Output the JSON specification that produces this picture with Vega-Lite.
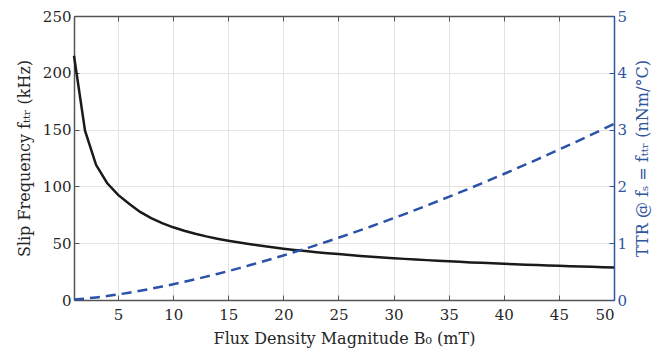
{
  "$schema": "https://vega.github.io/schema/vega-lite/v6.json",
  "autosize": "none",
  "width": 540,
  "height": 284,
  "padding": {"left": 74, "top": 16, "right": 56, "bottom": 58},
  "background": "white",
  "config": {
    "font": "DejaVu Serif",
    "view": {"stroke": null},
    "axis": {"labelFont": "DejaVu Serif", "titleFont": "DejaVu Serif", "labelFontSize": 15, "titleFontSize": 16, "titleFontWeight": "normal", "gridColor": "#e3e3e3", "gridWidth": 1}
  },
  "data": {"values": [
    {"B": 1, "f": 215, "ttr": 0.009},
    {"B": 2, "f": 149, "ttr": 0.025},
    {"B": 3, "f": 119, "ttr": 0.046},
    {"B": 4, "f": 103, "ttr": 0.070},
    {"B": 5, "f": 92.5, "ttr": 0.098},
    {"B": 6, "f": 84.7, "ttr": 0.129},
    {"B": 7, "f": 77.5, "ttr": 0.162},
    {"B": 8, "f": 72, "ttr": 0.198},
    {"B": 9, "f": 67.7, "ttr": 0.237},
    {"B": 10, "f": 64, "ttr": 0.277},
    {"B": 11, "f": 61, "ttr": 0.320},
    {"B": 12, "f": 58.3, "ttr": 0.364},
    {"B": 13, "f": 56, "ttr": 0.411},
    {"B": 14, "f": 54, "ttr": 0.459},
    {"B": 15, "f": 52.2, "ttr": 0.509},
    {"B": 16, "f": 50.6, "ttr": 0.561},
    {"B": 17, "f": 49.1, "ttr": 0.615},
    {"B": 18, "f": 47.7, "ttr": 0.670},
    {"B": 19, "f": 46.4, "ttr": 0.726},
    {"B": 20, "f": 45.2, "ttr": 0.784},
    {"B": 21, "f": 44.1, "ttr": 0.844},
    {"B": 22, "f": 43.1, "ttr": 0.905},
    {"B": 23, "f": 42.1, "ttr": 0.967},
    {"B": 24, "f": 41.2, "ttr": 1.031},
    {"B": 25, "f": 40.4, "ttr": 1.096},
    {"B": 26, "f": 39.6, "ttr": 1.162},
    {"B": 27, "f": 38.8, "ttr": 1.230},
    {"B": 28, "f": 38.1, "ttr": 1.299},
    {"B": 29, "f": 37.4, "ttr": 1.369},
    {"B": 30, "f": 36.8, "ttr": 1.441},
    {"B": 31, "f": 36.2, "ttr": 1.513},
    {"B": 32, "f": 35.6, "ttr": 1.587},
    {"B": 33, "f": 35.1, "ttr": 1.662},
    {"B": 34, "f": 34.6, "ttr": 1.738},
    {"B": 35, "f": 34.1, "ttr": 1.816},
    {"B": 36, "f": 33.6, "ttr": 1.894},
    {"B": 37, "f": 33.1, "ttr": 1.973},
    {"B": 38, "f": 32.7, "ttr": 2.054},
    {"B": 39, "f": 32.3, "ttr": 2.136},
    {"B": 40, "f": 31.9, "ttr": 2.218},
    {"B": 41, "f": 31.5, "ttr": 2.302},
    {"B": 42, "f": 31.1, "ttr": 2.387},
    {"B": 43, "f": 30.8, "ttr": 2.472},
    {"B": 44, "f": 30.4, "ttr": 2.559},
    {"B": 45, "f": 30.1, "ttr": 2.647},
    {"B": 46, "f": 29.8, "ttr": 2.735},
    {"B": 47, "f": 29.5, "ttr": 2.825},
    {"B": 48, "f": 29.2, "ttr": 2.916},
    {"B": 49, "f": 28.9, "ttr": 3.007},
    {"B": 50, "f": 28.6, "ttr": 3.100}
  ]},
  "layer": [
    {
      "mark": {"type": "line", "color": "#1a1a1a", "strokeWidth": 2.5},
      "encoding": {
        "x": {"field": "B", "type": "quantitative", "scale": {"domain": [1, 50], "nice": false, "zero": false},
          "axis": {"values": [5, 10, 15, 20, 25, 30, 35, 40, 45, 50], "title": "Flux Density Magnitude B₀ (mT)", "domainColor": "#555555", "domainWidth": 1.5, "tickColor": "#555555", "tickSize": -5, "tickWidth": 1, "labelColor": "#262626", "titleColor": "#262626", "labelPadding": 12, "titlePadding": 8, "grid": true}},
        "y": {"field": "f", "type": "quantitative", "scale": {"domain": [0, 250], "nice": false},
          "axis": {"values": [0, 50, 100, 150, 200, 250], "title": "Slip Frequency  fₜₜᵣ (kHz)", "orient": "left", "domainColor": "#555555", "domainWidth": 1.5, "tickColor": "#555555", "tickSize": -5, "labelColor": "#262626", "titleColor": "#262626", "labelPadding": 8, "titlePadding": 10, "grid": true}}
      }
    },
    {
      "mark": {"type": "line", "color": "#2a52a8", "strokeWidth": 2.5, "strokeDash": [10, 6]},
      "encoding": {
        "x": {"field": "B", "type": "quantitative", "scale": {"domain": [1, 50], "nice": false, "zero": false},
          "axis": {"orient": "top", "values": [5, 10, 15, 20, 25, 30, 35, 40, 45, 50], "labels": false, "title": null, "grid": false, "domainColor": "#555555", "domainWidth": 1.5, "tickColor": "#555555", "tickSize": -5}},
        "y": {"field": "ttr", "type": "quantitative", "scale": {"domain": [0, 5], "nice": false},
          "axis": {"orient": "right", "values": [0, 1, 2, 3, 4, 5], "title": "TTR @ fₛ = fₜₜᵣ (nNm/°C)", "titleAngle": 270, "titleBaseline": "top", "grid": false, "domainColor": "#2f559e", "domainWidth": 1.5, "tickColor": "#2f559e", "tickSize": -5, "labelColor": "#2f559e", "titleColor": "#2f559e", "labelPadding": 8, "titlePadding": 8}}
      }
    }
  ],
  "resolve": {"scale": {"y": "independent"}, "axis": {"x": "independent"}}
}
